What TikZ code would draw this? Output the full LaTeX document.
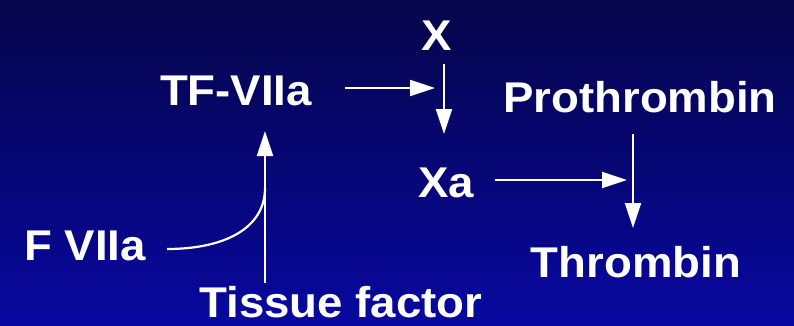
\documentclass[tikz,border=0pt]{standalone}
\usepackage{fontspec}
\setmainfont{Liberation Sans}
\usetikzlibrary{arrows.meta}
\definecolor{bgtop}{HTML}{05054A}
\definecolor{bgbot}{HTML}{0808A0}
\tikzset{
  lbl/.style={text=white, font=\bfseries\fontsize{43}{43}\selectfont, inner sep=0pt, anchor=base, xscale=1.06},
  conn/.style={draw=white, line width=2.2pt, -{Triangle[length=25pt,width=16pt]}},
  link/.style={draw=white, line width=2.2pt}
}
\begin{document}
\begin{tikzpicture}[x=1pt,y=-1pt]
\shade[top color=bgtop, bottom color=bgbot] (0,0) rectangle (794,325);
\useasboundingbox (0,0) rectangle (794,325);
\node[lbl] (x) at (437,50) {X};
\node[lbl] (tf) at (236,105) {TF-VIIa};
\node[lbl] (pro) at (640,112) {Prothrombin};
\node[lbl] (xa) at (446,197) {Xa};
\node[lbl] (f7) at (85,260) {F VIIa};
\node[lbl] (thr) at (636,277) {Thrombin};
\node[lbl] (tis) at (341,317) {Tissue factor};
\coordinate (h1s) at (345,88);
\coordinate (h1e) at (435,88);
\coordinate (v1s) at (444,64);
\coordinate (v1e) at (444,134);
\coordinate (h2s) at (495,180);
\coordinate (h2e) at (627,180);
\coordinate (v2s) at (633,134);
\coordinate (v2e) at (633,228);
\coordinate (tfs) at (265,283);
\coordinate (tfe) at (265,131);
\coordinate (cs) at (167,249);
\coordinate (ce) at (265,188);
\draw[conn] (h1s) -- (h1e);
\draw[conn] (v1s) -- (v1e);
\draw[conn] (h2s) -- (h2e);
\draw[conn] (v2s) -- (v2e);
\draw[conn] (tfs) -- (tfe);
\draw[link] (cs) .. controls (225,249) and (265,228) .. (ce);
\end{tikzpicture}
\end{document}
